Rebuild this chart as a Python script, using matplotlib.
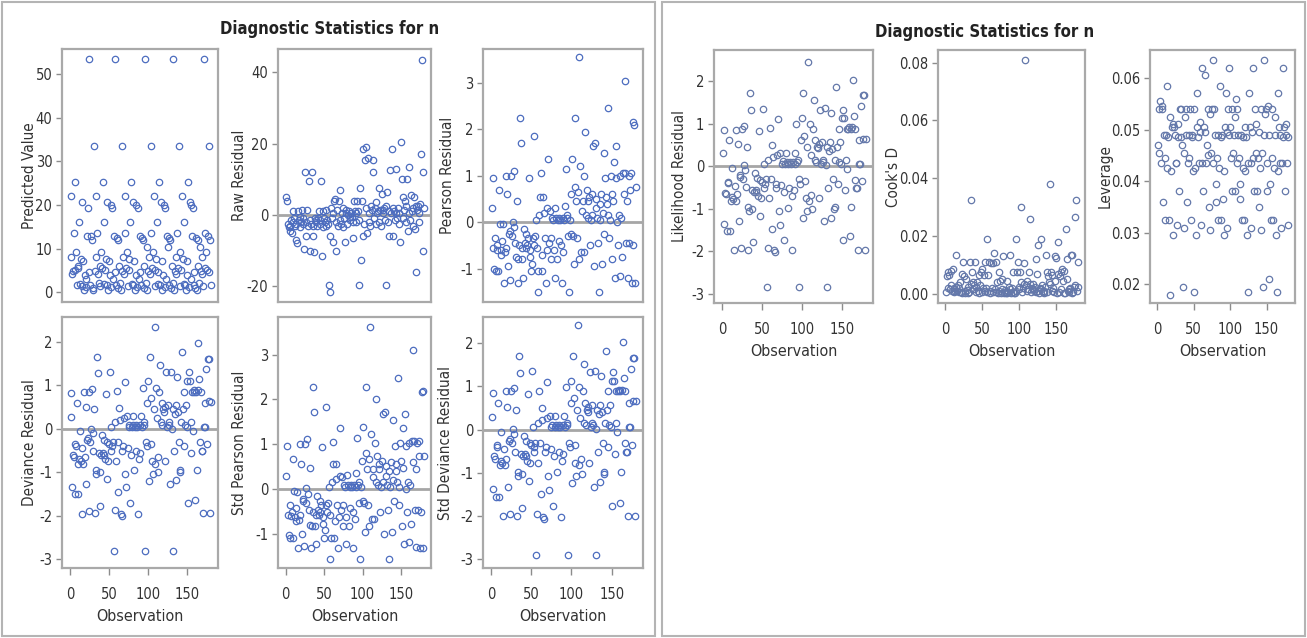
import matplotlib
matplotlib.use("Agg")
import matplotlib.pyplot as plt
import matplotlib.font_manager as fm
from matplotlib.patches import Rectangle
from matplotlib.ticker import FormatStrFormatter
import numpy as np

# prefer a condensed sans for the SAS-like look
cond = [f for f in fm.fontManager.ttflist
        if f.name == "DejaVu Sans" and f.stretch in ("condensed", "semi-condensed")]
narrow = [f for f in fm.fontManager.ttflist if f.name == "Liberation Sans Narrow"]
if narrow:
    plt.rcParams["font.family"] = ["Liberation Sans Narrow", "DejaVu Sans"]
elif cond:
    plt.rcParams["font.family"] = ["DejaVu Sans"]
    plt.rcParams["font.stretch"] = "condensed"
else:
    plt.rcParams["font.family"] = ["Liberation Sans", "DejaVu Sans"]
plt.rcParams["axes.unicode_minus"] = False

title = "Diagnostic Statistics for n"

pred = [8.1, 22.0, 4.3, 5.0, 13.6, 5.2, 25.3, 9.3, 1.8, 5.5, 6.0, 16.0, 2.0, 7.6, 20.7, 1.5, 7.2, 0.6, 4.0, 1.3,
        3.0, 13.0, 19.2, 4.7, 53.5, 1.8, 12.8, 12.1, 1.0, 0.6, 33.5, 5.0, 8.1, 22.0, 13.6, 4.3, 2.2, 6.0, 1.5, 9.3,
        5.5, 25.3, 2.0, 16.0, 5.2, 7.6, 1.8, 20.7, 0.6, 7.2, 4.0, 20.0, 1.3, 19.2, 3.0, 13.0, 4.7, 53.5, 1.8, 12.5,
        1.0, 12.0, 6.0, 2.2, 0.6, 33.5, 5.0, 8.1, 4.3, 22.0, 13.6, 5.5, 9.3, 1.5, 5.2, 7.6, 16.0, 25.3, 2.0, 1.8,
        20.7, 7.2, 0.6, 4.0, 20.0, 1.3, 19.2, 3.0, 13.0, 4.7, 1.8, 12.5, 12.0, 1.0, 6.0, 53.5, 2.2, 10.3, 0.6, 5.0,
        8.1, 4.3, 13.6, 33.5, 5.5, 9.3, 22.0, 1.5, 5.2, 7.6, 16.0, 2.0, 4.7, 25.3, 1.8, 20.7, 7.2, 0.6, 4.0, 20.0,
        1.3, 19.2, 3.0, 13.0, 10.3, 1.8, 12.5, 12.0, 1.0, 6.0, 2.2, 53.5, 0.6, 5.0, 8.1, 4.3, 13.6, 5.5, 33.5, 9.3,
        1.5, 5.2, 22.0, 7.6, 2.0, 16.0, 1.8, 0.6, 7.2, 4.0, 25.3, 1.3, 20.7, 3.0, 20.0, 13.0, 19.2, 4.7, 1.8, 1.0,
        12.5, 0.6, 12.0, 6.0, 2.2, 10.3, 5.0, 8.1, 4.3, 1.5, 53.5, 13.6, 5.5, 9.3, 5.2, 12.8, 4.7, 33.5, 12.1, 1.8]

raw = [5.0, 4.0, -2.5, -3.5, -4.5, -3.0, -1.5, -5.0, -2.0, 1.0, -1.0, -3.0, -2.5, -7.0, -8.0, 1.0, -1.5, -3.5, -0.5, -2.0,
       1.5, -2.5, -1.0, -9.5, 12.0, -6.0, -2.0, 1.5, -3.0, 9.5, -1.5, -10.0, -2.5, 12.0, -6.0, -3.0, -10.5, -1.0, -2.0, -1.5,
       -3.0, -1.0, 1.0, -2.5, -1.5, 9.5, -11.5, -3.5, 1.0, -1.0, -2.0, -3.0, 1.5, -1.5, -2.5, -19.5, -6.0, -21.5, 2.0, -1.0,
       -7.5, 0.5, 4.0, 4.5, -10.0, -2.0, 1.5, -3.0, 4.0, 7.0, -1.5, -2.5, 0.5, 2.0, -3.5, -1.0, -7.5, 1.5, 0.5, -2.5,
       0.0, 1.0, -1.5, -0.5, 0.5, -0.5, -2.0, -6.5, 4.0, 1.0, -2.0, 0.5, 4.0, 1.0, -1.5, -19.5, 7.5, -12.5, 4.0, -6.0,
       18.5, -2.5, 15.5, 2.0, 19.0, -5.0, 16.0, -2.0, 0.5, -3.0, 2.5, 1.5, 15.5, 12.0, -1.0, 2.0, 3.5, -2.5, 0.5, 1.0,
       -2.0, 7.5, 1.5, -3.0, 6.0, 1.5, 0.5, 2.0, -1.5, 2.5, -19.5, 6.5, -2.0, 1.0, -6.0, 12.5, 0.5, 18.5, -6.0, 2.0,
       1.0, -1.5, 13.0, 0.5, -1.0, 2.0, -2.5, 0.5, -7.5, 20.5, 10.0, 5.0, -1.0, 1.5, 4.0, -2.0, 2.5, 10.0, -4.5, 0.5,
       13.5, -1.5, 5.5, 1.0, -3.0, 2.0, 5.0, -4.0, 2.5, -16.0, 1.5, 2.5, -2.0, 0.5, 3.0, 17.0, 43.5, -10.0, 12.0, 2.0]

pearson = [0.3, 0.95, -0.55, -1.0, -0.35, -1.05, -0.6, -0.5, -1.05, 0.7, -0.05, -0.6, -0.7, -0.4, -0.05, -1.3, -0.65, 1.0, -0.55, 0.6,
           -0.95, -0.25, -0.2, -1.25, 1.0, -0.3, 0.0, 1.1, -0.1, -0.45, -0.75, 0.45, -1.3, -0.8, -0.5, 2.25, 1.7, -0.8, -0.55, -1.2,
           -0.15, -0.45, -0.55, -0.25, -0.5, -0.35, 0.95, -0.6, -0.75, -1.05, -0.9, -0.35, 1.85, -0.5, -0.3, 0.05, -0.55, -1.5, -1.05, 0.15,
           0.55, 1.05, -1.05, -0.7, 0.55, 0.2, -0.35, -1.3, -0.6, 0.3, 1.35, -0.45, 0.25, -0.8, -0.35, 0.1, 0.05, -0.6, -1.2, 0.3,
           0.1, -0.8, 0.05, -0.4, 0.1, 0.05, -0.5, -1.3, 0.1, -0.65, 0.05, 0.35, 1.15, 0.1, 0.15, -0.3, -1.5, 0.05, 0.6, -0.25,
           1.35, -0.3, -0.9, 2.25, 0.75, 0.45, -0.35, 0.65, -0.8, 3.55, 1.2, -0.65, 0.25, 0.45, -0.65, 1.0, 1.95, 0.15, 0.7, 0.1,
           0.45, 0.55, -0.5, 0.05, 0.6, 0.15, 1.65, -0.95, 1.7, 0.3, 0.5, 0.1, -0.45, -1.5, 0.4, 0.05, 0.6, -0.9, 0.2, 1.5,
           -0.25, 0.95, 0.55, 0.4, 0.15, 2.45, -0.35, 0.05, 1.0, 0.6, -0.8, 0.45, 1.3, -1.2, 1.65, 0.95, 0.0, -0.5, 0.15, -1.15,
           1.0, 0.1, -0.75, 1.05, 0.6, 3.05, 1.05, -0.45, 0.45, -1.2, 1.0, -0.45, 0.7, 1.05, -1.3, -0.5, 2.15, 2.1, -1.3, 0.75]

deviance = [0.28, 0.82, -1.35, -0.6, -0.65, -1.5, -0.35, -0.4, 0.6, -1.5, -0.8, -0.7, -0.05, -0.75, -1.97, -0.45, -0.8, 0.85, -0.65, 0.5,
            -1.28, -0.25, -0.2, -1.9, 0.85, -0.3, 0.0, 0.92, -0.1, -0.5, 0.45, -1.95, -0.95, -1.05, 1.65, 1.28, -0.55, -1.0, -1.78, -0.6,
            -0.15, -0.55, -0.6, -0.25, -0.7, 0.8, -1.15, -0.3, -0.75, -0.35, 1.32, 0.05, -0.5, -0.4, -0.3, -2.82, -1.88, 0.15, -0.75, 0.88,
            -0.3, -1.45, 0.48, 0.2, -1.97, -2.0, -0.5, -0.4, 0.25, 1.08, -1.05, -1.35, 0.3, -0.45, 0.05, 0.1, -1.7, -0.6, 0.05, 0.3,
            0.1, -0.95, 0.05, -0.5, 0.1, 0.05, -1.97, -0.7, 0.1, -0.55, 0.3, 0.05, 0.95, 0.1, 0.15, -2.82, -0.3, -0.4, 0.6, 1.1,
            -1.2, 1.65, 0.7, -0.35, -0.75, -1.05, 0.45, 2.35, -0.8, 0.95, 0.25, -0.65, -1.0, 0.85, 1.48, 0.15, 0.6, 0.1, 0.45, 0.4,
            0.5, -0.75, 1.3, 0.05, 0.55, 0.15, 0.1, -1.27, 1.32, 0.0, -2.82, 0.45, -0.5, 0.35, 0.55, -1.18, 1.2, 0.4, -0.3, -1.0,
            -0.95, 0.15, 1.78, 0.45, -0.4, 0.85, 0.1, 0.55, 0.05, 1.1, -1.7, 1.3, 1.1, -0.55, 0.15, 0.85, -0.05, 0.85, 0.9, -1.65,
            0.85, -0.95, 0.9, 1.98, 1.15, -0.3, 0.85, -0.5, -0.5, -1.95, 0.05, 0.6, 0.05, 1.38, -0.35, 1.6, 0.65, 1.6, -1.95, 0.62]

std_pearson = [0.3, 0.97, -0.57, -1.03, -0.36, -1.08, -0.6, -0.52, -1.08, 0.68, -0.05, -0.62, -0.72, -0.42, -0.06, -1.32, -0.68, 1.0, -0.57, 0.57,
               -1.0, -0.26, -0.22, -1.28, 1.0, -0.32, 0.02, 1.12, -0.1, -0.47, -0.8, 0.48, -1.32, -0.83, -0.52, 2.28, 1.73, -0.82, -0.57, -1.22,
               -0.16, -0.47, -0.57, -0.26, -0.52, -0.36, 0.95, -0.62, -0.78, -1.08, -0.92, -0.36, 1.83, -0.52, -0.3, 0.05, -0.57, -1.57, -1.08, 0.15,
               0.55, 1.05, -1.1, -0.72, 0.55, 0.22, -0.36, -1.32, -0.62, 0.3, 1.37, -0.47, 0.26, -0.83, -0.36, 0.1, 0.05, -0.62, -1.22, 0.32,
               0.1, -0.83, 0.05, -0.42, 0.1, 0.05, -0.52, -1.32, 0.1, -0.67, 0.05, 0.35, 1.15, 0.1, 0.15, -0.32, -1.57, 0.05, 0.63, -0.26,
               1.38, -0.3, -0.95, 2.28, 0.8, 0.45, -0.36, 0.68, -0.83, 3.62, 1.23, -0.67, 0.26, 0.45, -0.67, 1.02, 2.0, 0.15, 0.73, 0.1,
               0.45, 0.57, -0.52, 0.05, 0.62, 0.15, 1.68, -1.0, 1.73, 0.3, 0.52, 0.1, -0.47, -1.57, 0.4, 0.05, 0.6, -0.95, 0.2, 1.55,
               -0.26, 0.97, 0.57, 0.4, 0.15, 2.47, -0.36, 0.05, 1.03, 0.63, -0.82, 0.47, 1.37, -1.22, 1.68, 0.97, 0.0, -0.52, 0.15, -1.18,
               1.03, 0.1, -0.78, 1.08, 0.6, 3.1, 1.08, -0.47, 0.45, -1.3, 1.03, -0.47, 0.73, 1.08, -1.32, -0.5, 2.17, 2.2, -1.32, 0.73]

std_deviance = [0.29, 0.85, -1.38, -0.62, -0.67, -1.55, -0.36, -0.41, 0.62, -1.55, -0.82, -0.72, -0.05, -0.77, -2.0, -0.46, -0.82, 0.88, -0.67, 0.52,
                -1.32, -0.26, -0.21, -1.95, 0.88, -0.31, 0.02, 0.95, -0.1, -0.52, 0.46, -2.0, -0.98, -1.08, 1.7, 1.3, -0.57, -1.03, -1.82, -0.62,
                -0.15, -0.57, -0.62, -0.26, -0.72, 0.82, -1.2, -0.31, -0.77, -0.36, 1.35, 0.05, -0.52, -0.41, -0.31, -2.9, -1.95, 0.15, -0.77, 0.9,
                -0.31, -1.5, 0.5, 0.21, -2.02, -2.07, -0.52, -0.41, 0.26, 1.1, -1.08, -1.4, 0.31, -0.46, 0.05, 0.1, -1.77, -0.62, 0.05, 0.31,
                0.1, -0.98, 0.05, -0.52, 0.1, 0.05, -2.02, -0.72, 0.1, -0.57, 0.31, 0.05, 0.98, 0.1, 0.15, -2.9, -0.31, -0.41, 0.62, 1.13,
                -1.23, 1.7, 0.72, -0.36, -0.77, -1.08, 0.46, 2.42, -0.82, 0.98, 0.26, -0.67, -1.03, 0.88, 1.52, 0.15, 0.62, 0.1, 0.46, 0.41,
                0.52, -0.77, 1.33, 0.05, 0.57, 0.15, 0.1, -1.32, 1.36, 0.02, -2.9, 0.46, -0.52, 0.36, 0.57, -1.22, 1.23, 0.41, -0.31, -1.03,
                -0.98, 0.15, 1.82, 0.46, -0.41, 0.88, 0.1, 0.57, 0.05, 1.13, -1.77, 1.33, 1.13, -0.57, 0.15, 0.88, -0.05, 0.88, 0.92, -1.7,
                0.88, -0.98, 0.92, 2.02, 1.18, -0.31, 0.88, -0.52, -0.52, -2.0, 0.05, 0.62, 0.05, 1.4, -0.36, 1.65, 0.67, 1.65, -2.0, 0.65]

likelihood = [0.3, 0.84, -1.37, -0.63, -0.66, -1.52, -0.37, -0.4, 0.61, -1.52, -0.83, -0.73, -0.05, -0.78, -1.98, -0.47, -0.83, 0.86, -0.66, 0.51,
              -1.3, -0.25, -0.22, -1.93, 0.87, -0.3, 0.02, 0.94, -0.09, -0.5, 0.46, -1.97, -0.96, -1.06, 1.73, 1.31, -0.56, -1.02, -1.78, -0.61,
              -0.16, -0.56, -0.61, -0.27, -0.71, 0.82, -1.18, -0.32, -0.76, -0.37, 1.34, 0.05, -0.51, -0.42, -0.3, -2.85, -1.93, 0.14, -0.76, 0.9,
              -0.3, -1.47, 0.5, 0.22, -1.98, -2.03, -0.51, -0.42, 0.27, 1.11, -1.06, -1.38, 0.3, -0.45, 0.05, 0.11, -1.73, -0.61, 0.05, 0.31,
              0.1, -0.98, 0.06, -0.51, 0.1, 0.05, -1.98, -0.71, 0.1, -0.56, 0.31, 0.05, 0.98, 0.1, 0.15, -2.85, -0.31, -0.41, 0.62, 1.13,
              -1.21, 1.73, 0.71, -0.36, -0.76, -1.05, 0.46, 2.45, -0.81, 1.0, 0.26, -0.67, -1.02, 0.88, 1.55, 0.15, 0.62, 0.1, 0.46, 0.42,
              0.52, -0.76, 1.32, 0.05, 0.56, 0.15, 0.1, -1.3, 1.37, 0.02, -2.85, 0.46, -0.51, 0.36, 0.56, -1.21, 1.25, 0.41, -0.3, -1.02,
              -0.96, 0.15, 1.85, 0.46, -0.41, 0.88, 0.1, 0.56, 0.05, 1.12, -1.73, 1.33, 1.12, -0.56, 0.15, 0.88, -0.06, 0.88, 0.93, -1.65,
              0.88, -0.97, 0.92, 2.03, 1.18, -0.32, 0.88, -0.52, -0.52, -1.97, 0.05, 0.62, 0.05, 1.41, -0.36, 1.66, 0.63, 1.68, -1.97, 0.63]

cooks = [0.0005, 0.006, 0.0075, 0.002, 0.0065, 0.0015, 0.003, 0.008, 0.001, 0.0085, 0.002, 0.0005, 0.001, 0.0025, 0.0135, 0.001, 0.003, 0.0005, 0.002, 0.004,
         0.0007, 0.007, 0.0004, 0.011, 0.006, 0.001, 0.0002, 0.005, 0.0012, 0.0003, 0.0025, 0.0005, 0.011, 0.0035, 0.0325, 0.0075, 0.004, 0.0015, 0.003, 0.011,
         0.0025, 0.0005, 0.004, 0.001, 0.0002, 0.0065, 0.003, 0.0075, 0.0005, 0.0085, 0.002, 0.0065, 0.0008, 0.011, 0.002, 0.0005, 0.019, 0.0065, 0.011, 0.0003,
         0.001, 0.0105, 0.002, 0.0005, 0.0105, 0.014, 0.0015, 0.0005, 0.011, 0.004, 0.0003, 0.0075, 0.001, 0.0045, 0.0002, 0.005, 0.0015, 0.013, 0.0004, 0.0005,
         0.0012, 0.0002, 0.0045, 0.0003, 0.0005, 0.0025, 0.0135, 0.0015, 0.0004, 0.002, 0.0075, 0.0006, 0.0002, 0.0004, 0.001, 0.019, 0.0075, 0.011, 0.0025, 0.0015,
         0.0075, 0.030, 0.004, 0.0005, 0.002, 0.0105, 0.0035, 0.081, 0.003, 0.001, 0.0045, 0.0015, 0.0075, 0.026, 0.0035, 0.0005, 0.002, 0.0015, 0.0035, 0.001,
         0.0025, 0.0005, 0.012, 0.007, 0.017, 0.0008, 0.0004, 0.002, 0.0015, 0.019, 0.003, 0.0005, 0.0008, 0.0003, 0.0025, 0.0135, 0.0075, 0.0005, 0.006, 0.004,
         0.0035, 0.038, 0.0075, 0.0008, 0.0065, 0.002, 0.0005, 0.0045, 0.013, 0.0125, 0.0003, 0.018, 0.007, 0.0005, 0.006, 0.0015, 0.0075, 0.0085, 0.0045, 0.0003,
         0.008, 0.0002, 0.0225, 0.005, 0.012, 0.001, 0.0015, 0.0005, 0.002, 0.0135, 0.0003, 0.0135, 0.0007, 0.0025, 0.0265, 0.003, 0.0325, 0.001, 0.011, 0.0025]

leverage = [0.047, 0.054, 0.0455, 0.0555, 0.0435, 0.054, 0.0545, 0.036, 0.049, 0.0445, 0.0325, 0.049, 0.0425, 0.0585, 0.0485, 0.0325, 0.0525, 0.018, 0.042, 0.0505,
            0.051, 0.0295, 0.0505, 0.049, 0.0435, 0.0435, 0.0315, 0.051, 0.0485, 0.038, 0.054, 0.0485, 0.054, 0.047, 0.0195, 0.0455, 0.031, 0.0525, 0.054, 0.049,
            0.036, 0.0435, 0.0445, 0.049, 0.054, 0.0325, 0.049, 0.0485, 0.042, 0.0185, 0.054, 0.0425, 0.0295, 0.0505, 0.057, 0.0485, 0.0435, 0.0515, 0.0495, 0.0315,
            0.0435, 0.062, 0.038, 0.0505, 0.0605, 0.0495, 0.0435, 0.047, 0.054, 0.045, 0.035, 0.0305, 0.053, 0.0455, 0.054, 0.0635, 0.0435, 0.054, 0.049, 0.036,
            0.0395, 0.0445, 0.049, 0.0325, 0.0425, 0.0585, 0.0485, 0.0325, 0.049, 0.0365, 0.042, 0.0295, 0.0505, 0.057, 0.0495, 0.031, 0.054, 0.049, 0.062, 0.0505,
            0.0445, 0.038, 0.054, 0.0455, 0.049, 0.0525, 0.038, 0.056, 0.054, 0.0435, 0.049, 0.0445, 0.0365, 0.0395, 0.049, 0.0325, 0.0425, 0.0485, 0.0325, 0.0505,
            0.042, 0.0485, 0.0295, 0.0185, 0.0435, 0.057, 0.0505, 0.031, 0.0435, 0.0495, 0.062, 0.0445, 0.038, 0.054, 0.0455, 0.051, 0.038, 0.0445, 0.0495, 0.035,
            0.0425, 0.054, 0.0305, 0.0455, 0.0195, 0.049, 0.0635, 0.053, 0.054, 0.038, 0.0435, 0.0545, 0.021, 0.049, 0.0395, 0.0325, 0.0445, 0.054, 0.0325, 0.0425,
            0.049, 0.0525, 0.0295, 0.0185, 0.042, 0.057, 0.0505, 0.049, 0.0435, 0.031, 0.0435, 0.062, 0.0485, 0.0505, 0.038, 0.049, 0.051, 0.0435, 0.0315, 0.0485]

W, H = 1307, 638
fig = plt.figure(figsize=(W / 100, H / 100), dpi=100)

BLUE = "#4d6dbf"
BLUE2 = "#6478aa"
FRAME = "#a9a9a9"
TXT = "#333333"


def box(x0, y0, x1, y1):
    fig.patches.append(Rectangle((x0 / W, 1 - y1 / H), (x1 - x0) / W, (y1 - y0) / H,
                                 transform=fig.transFigure, fill=False,
                                 edgecolor="#b4b4b4", lw=1.5))


def panel(rect, vals, ylabel, ylab_x, ylim, yticks, ref=True, xlab=True, color=BLUE, fmt=None):
    x, y, w, h = rect
    ax = fig.add_axes([x / W, 1 - (y + h) / H, w / W, h / H])
    obs = np.arange(1, len(vals) + 1)
    if ref:
        ax.axhline(0, color="#a6a6a6", lw=2.0, zorder=1)
    ax.plot(obs, vals, "o", ms=4.6, mfc="none", mec=color, mew=0.9, zorder=2)
    ax.set_xlim(-10, 189)
    ax.set_ylim(*ylim)
    ax.set_yticks(yticks)
    if fmt:
        ax.yaxis.set_major_formatter(FormatStrFormatter(fmt))
    for s in ax.spines.values():
        s.set_color(FRAME)
        s.set_linewidth(1.6)
    ax.tick_params(axis="y", colors="#8c8c8c", labelcolor=TXT, labelsize=10.5,
                   length=4, width=1, pad=3)
    ax.tick_params(axis="x", colors="#8c8c8c", labelcolor=TXT, labelsize=10.5,
                   length=5, width=1, pad=9)
    # y label placed in pixels, left of the frame
    fig.text(ylab_x / W, 1 - (y + h / 2) / H, ylabel, rotation=90,
             ha="center", va="center", fontsize=11, color=TXT)
    if xlab:
        ax.set_xticks([0, 50, 100, 150])
        ax.set_xlabel("Observation", fontsize=11.5, color=TXT, labelpad=5)
    else:
        ax.set_xticks([])
    return ax


box(2, 2, 655, 636)
box(662, 2, 1305, 636)
fig.text(330 / W, 1 - 29 / H, title, ha="center", va="center",
         fontsize=12, fontweight="bold", color="#222222")
fig.text(985 / W, 1 - 32 / H, title, ha="center", va="center",
         fontsize=12, fontweight="bold", color="#222222")

# left block: 2 x 3 grid
panel((62, 49, 156, 253), pred, "Predicted Value", 29, (-2.2, 55.7), [0, 10, 20, 30, 40, 50], ref=False, xlab=False)
panel((278, 49, 153, 253), raw, "Raw Residual", 239, (-24.4, 46.5), [-20, 0, 20, 40], xlab=False)
panel((483, 49, 160, 253), pearson, "Pearson Residual", 448, (-1.72, 3.73), [-1, 0, 1, 2, 3], xlab=False)
panel((62, 317, 156, 251), deviance, "Deviance Residual", 29, (-3.21, 2.58), [-3, -2, -1, 0, 1, 2])
panel((278, 317, 153, 251), std_pearson, "Std Pearson Residual", 239, (-1.76, 3.84), [-1, 0, 1, 2, 3])
panel((483, 317, 160, 251), std_deviance, "Std Deviance Residual", 446, (-3.2, 2.6), [-3, -2, -1, 0, 1, 2])

# right block: one row
panel((714, 50, 159, 253), likelihood, "Likelihood Residual", 680, (-3.22, 2.73), [-3, -2, -1, 0, 1, 2], color=BLUE2)
panel((938, 50, 147, 253), cooks, "Cook's D", 893, (-0.0032, 0.0844), [0, 0.02, 0.04, 0.06, 0.08],
      ref=False, color=BLUE2, fmt="%.2f")
panel((1150, 50, 145, 253), leverage, "Leverage", 1105, (0.0164, 0.0654), [0.02, 0.03, 0.04, 0.05, 0.06],
      ref=False, color=BLUE2, fmt="%.2f")

fig.savefig("out.png", dpi=100)
